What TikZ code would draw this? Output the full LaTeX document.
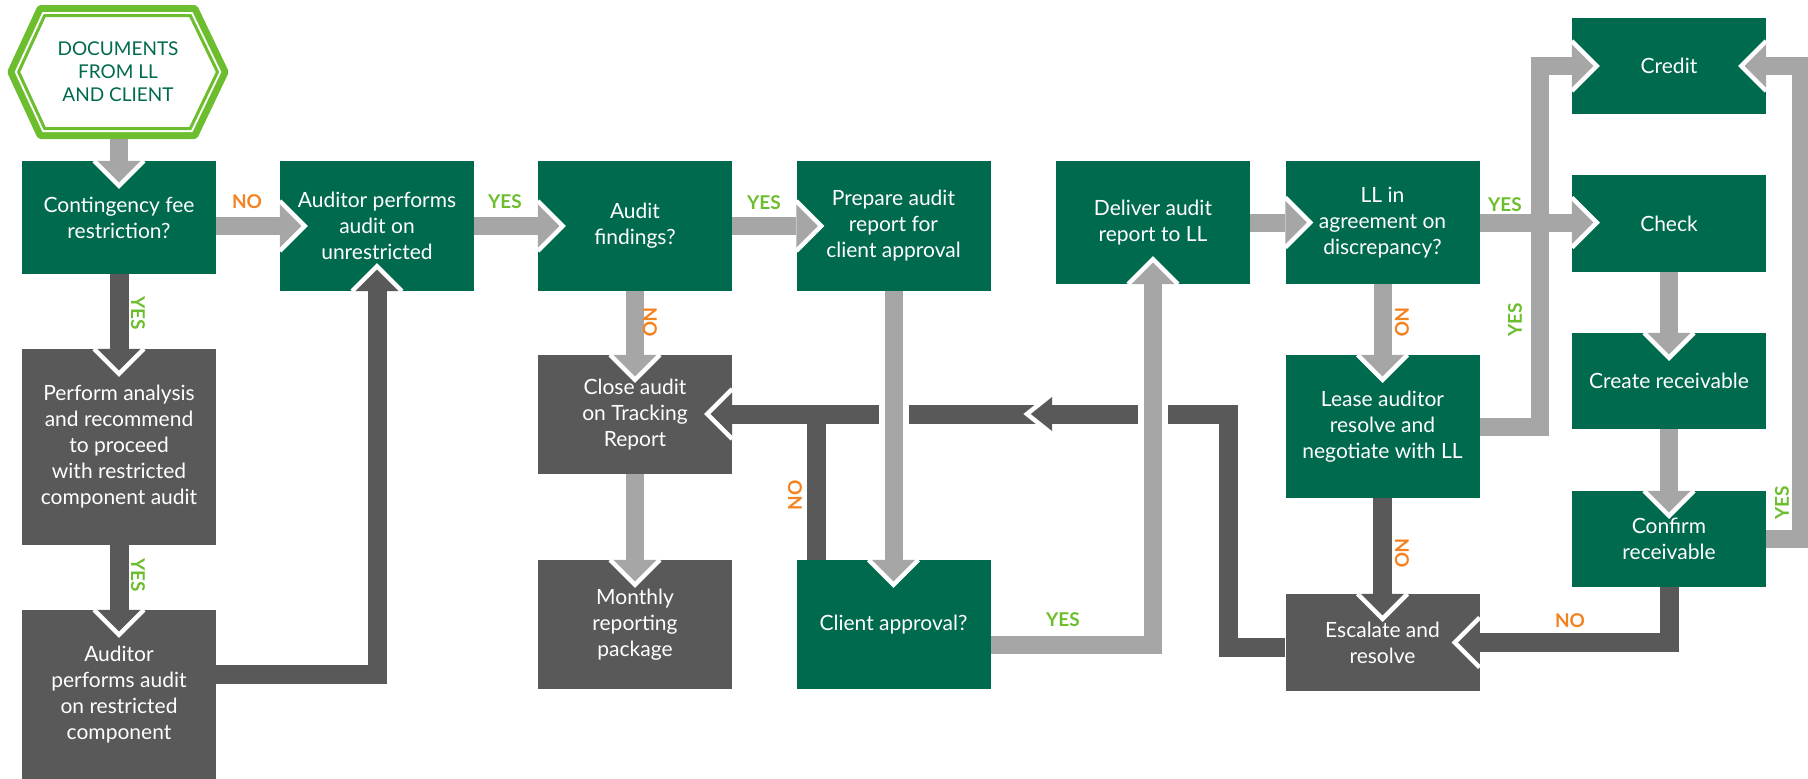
\documentclass[tikz,border=0pt]{standalone}
\usepackage{fontspec}
\setmainfont{Lato}
\usetikzlibrary{arrows.meta}

\definecolor{boxgreen}{RGB}{0,106,78}
\definecolor{dgrey}{RGB}{89,89,89}
\definecolor{lgrey}{RGB}{166,166,166}
\definecolor{hexgreen}{RGB}{109,190,46}
\definecolor{noorange}{RGB}{245,130,32}

% chevron head: filled in the line colour, white edges, tip runs into the box
\pgfdeclarearrow{
  name = Chev,
  parameters = {\the\pgfarrowlength,\the\pgfarrowwidth},
  setup code = {
    \pgfarrowssettipend{0pt}
    \pgfarrowssetlineend{0pt}
    \pgfarrowssetbackend{0pt}
    \pgfarrowssavethe\pgfarrowlength
    \pgfarrowssavethe\pgfarrowwidth
  },
  drawing code = {
    \pgfpathmoveto{\pgfqpoint{0pt}{.5\pgfarrowwidth}}
    \pgfpathlineto{\pgfqpoint{\pgfarrowlength}{0pt}}
    \pgfpathlineto{\pgfqpoint{0pt}{-.5\pgfarrowwidth}}
    \pgfpathclose
    \pgfusepathqfill
    \begin{pgfscope}
      \pgfsetstrokecolor{white}
      \pgfsetlinewidth{4.5pt}
      \pgfsetmiterjoin
      \pgfpathmoveto{\pgfqpoint{0pt}{.5\pgfarrowwidth}}
      \pgfpathlineto{\pgfqpoint{\pgfarrowlength}{0pt}}
      \pgfpathlineto{\pgfqpoint{0pt}{-.5\pgfarrowwidth}}
      \pgfusepathqstroke
    \end{pgfscope}
  },
  defaults = {length = 25pt, width = 50pt}
}

\begin{document}
\begin{tikzpicture}[x=1pt, y=-1pt,
    box/.style={fill=boxgreen, text=white, align=center, inner sep=0pt,
        minimum width=194pt, font=\fontsize{21}{26}\selectfont},
    gbox/.style={box, fill=dgrey},
    lline/.style={color=lgrey, line width=18pt},
    dline/.style={color=dgrey, line width=19pt},
    bridge/.style={preaction={draw=white, line width=30pt, arrows=-}},
    yeslbl/.style={text=hexgreen, font=\fontsize{19}{19}\selectfont\bfseries},
    nolbl/.style={text=noorange, font=\fontsize{19}{19}\selectfont\bfseries}]
    \useasboundingbox (0,0) rectangle (1808,779);

    % Start hexagon
    \fill[hexgreen, rounded corners=3pt] (7,72) -- (38,5) -- (197,5) -- (229,72) -- (197,139) -- (38,139) -- cycle;
    \fill[white] (14.7,72) -- (42.5,12) -- (192.5,12) -- (221.3,72) -- (192.5,132) -- (42.5,132) -- cycle;
    \draw[hexgreen, line width=3pt] (18.6,72) -- (44.7,15.5) -- (190.3,15.5) -- (217.5,72) -- (190.3,128.5) -- (44.7,128.5) -- cycle;
    \node[text=boxgreen, align=center, inner sep=0pt, minimum width=222pt, minimum height=134pt,
        font=\fontsize{19}{23}\selectfont] (docs) at (118,72) {DOCUMENTS\\FROM LL\\AND CLIENT};

    % Boxes
    \node[box, minimum height=113pt] (fee) at (119,217.5) {Contingency fee\\restriction?};
    \node[box, minimum height=130pt] (unres) at (377,226) {Auditor performs\\audit on\\unrestricted};
    \node[box, minimum height=130pt] (findings) at (635,226) {Audit\\findings?};
    \node[box, minimum height=130pt] (prep) at (893.5,226) {Prepare audit\\report for\\client approval};
    \node[box, minimum height=123pt] (deliver) at (1153,222.5) {Deliver audit\\report to LL};
    \node[box, minimum height=123pt] (agree) at (1382.5,222.5) {LL in\\agreement on\\discrepancy?};
    \node[box, minimum height=96pt] (credit) at (1669,66) {Credit};
    \node[box, minimum height=97pt] (check) at (1669,223.5) {Check};
    \node[box, minimum height=96pt] (create) at (1669,381) {Create receivable};
    \node[box, minimum height=96pt] (confirm) at (1669,539) {Confirm\\receivable};
    \node[box, minimum height=143pt] (lease) at (1382.5,426.5) {Lease auditor\\resolve and\\negotiate with LL};
    \node[gbox, minimum height=97pt] (escal) at (1382.5,642.5) {Escalate and\\resolve};
    \node[box, minimum height=129pt] (approve) at (893.5,624.5) {Client approval?};
    \node[gbox, minimum height=129pt] (monthly) at (635,624.5) {Monthly\\reporting\\package};
    \node[gbox, minimum height=119pt] (close) at (635,414.5) {Close audit\\on Tracking\\Report};
    \node[gbox, minimum height=196pt] (analysis) at (119,447) {Perform analysis\\and recommend\\to proceed\\with restricted\\component audit};
    \node[gbox, minimum height=169pt] (restr) at (119,694.5) {Auditor\\performs audit\\on restricted\\component};

    % Turning points
    \coordinate (turn) at (1228,414);
    \coordinate (mid) at (1052,414);
    \coordinate (jn) at (816,414);
    \coordinate (kg) at (1540,66);
    \coordinate (jg) at (1801,66);

    % Dark connectors
    \foreach \a/\b in {fee/analysis, analysis/restr, lease/escal} {
        \draw[dline, -{Chev}] (\a.south) -- (\b.north);
    }
    \draw[dline, -{Chev}] ([yshift=20pt]restr.east) -| (unres.south);
    \draw[dline] (jn |- approve.north) -- (jn);
    \draw[dline, -{Chev}] (mid) -- (mid -| close.east);
    \draw[dline, -{Chev[width=40pt]}] ([yshift=-5pt]escal.west) -| (turn) -- (mid);
    \draw[dline, -{Chev}] (confirm.south) |- (escal.east);

    % Light connectors
    \draw[lline, -{Chev}] (fee.north |- docs.south) -- (fee.north);
    \draw[lline, -{Chev}] (fee.east |- unres.west) -- (unres.west);
    \foreach \a/\b in {unres/findings, findings/prep, deliver/agree} {
        \draw[lline, -{Chev}] (\a.east) -- (\a.east -| \b.west);
    }
    \foreach \a/\b in {findings/close, close/monthly, agree/lease, check/create, create/confirm} {
        \draw[lline, -{Chev}] (\a.south) -- (\b.north);
    }
    \draw[lline, bridge, -{Chev}] (prep.south) -- (approve.north);
    \draw[lline, bridge, -{Chev}] ([yshift=-20pt]approve.east) -| (deliver.south);
    \draw[lline, -{Chev}] (agree.east) -- (agree.east -| check.west);
    \draw[lline, -{Chev}] (lease.east) -| (kg) -- (credit.west);
    \draw[lline, -{Chev}] (confirm.east) -| (jg) -- (credit.east);

    % Yes / no labels
    \node[nolbl] (no1) at (247,202) {NO};
    \node[yeslbl, rotate=-90] (yes1) at (138,313) {YES};
    \node[yeslbl, rotate=-90] (yes2) at (138,575) {YES};
    \node[yeslbl] (yes3) at (505,202) {YES};
    \node[yeslbl] (yes4) at (764,203) {YES};
    \node[nolbl, rotate=-90] (no2) at (650,322) {NO};
    \node[nolbl, rotate=90] (no3) at (795,495) {NO};
    \node[yeslbl] (yes5) at (1063,620) {YES};
    \node[yeslbl] (yes6) at (1505,205) {YES};
    \node[nolbl, rotate=-90] (no4) at (1402,322) {NO};
    \node[yeslbl, rotate=90] (yes7) at (1515,320) {YES};
    \node[nolbl, rotate=-90] (no5) at (1402,553) {NO};
    \node[nolbl] (no6) at (1570,621) {NO};
    \node[yeslbl, rotate=90] (yes8) at (1782,503) {YES};
\end{tikzpicture}
\end{document}
